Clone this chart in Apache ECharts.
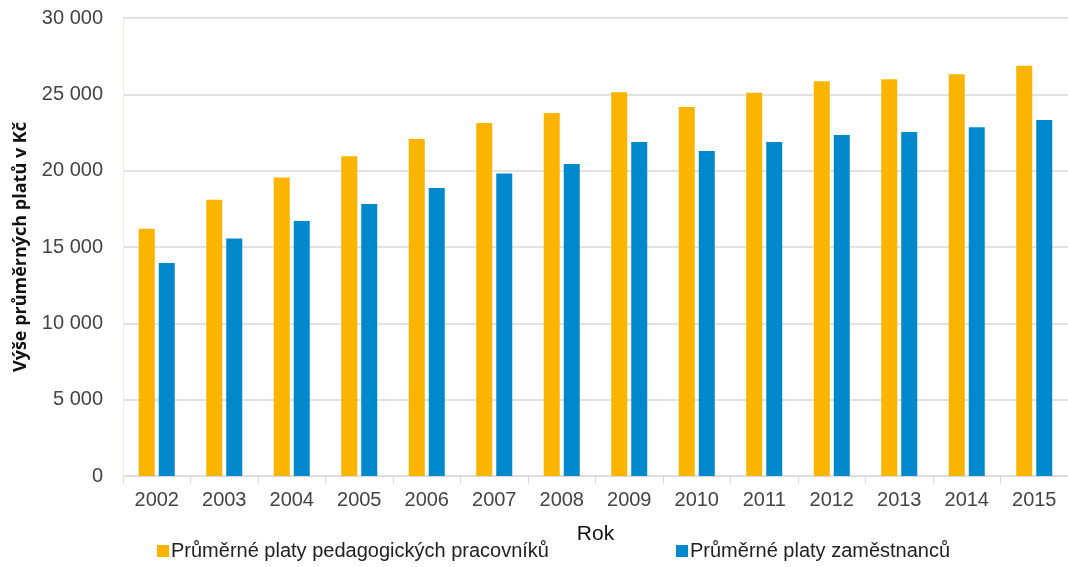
<!DOCTYPE html>
<html><head><meta charset="utf-8">
<script src="https://cdn.jsdelivr.net/npm/echarts@6/dist/echarts.min.js"></script>
<style>html,body{margin:0;padding:0;background:#fff}#c{width:1068px;height:567px}</style>
</head><body><div id="c"></div>
<script>
var years = ['2002','2003','2004','2005','2006','2007','2008','2009','2010','2011','2012','2013','2014','2015'];
var pedagogove = [16200,18100,19550,20950,22070,23120,23780,25130,24170,25110,25850,25990,26310,26880];
var zamestnanci = [13950,15550,16700,17820,18860,19820,20440,21880,21290,21880,22340,22530,22840,23320];
var seriesNames = ['Průměrné platy pedagogických pracovníků','Průměrné platy zaměstnanců'];

var chart = echarts.init(document.getElementById('c'));
var fmt = function(v){ return String(v).replace(/\B(?=(\d{3})+(?!\d))/g,' '); };
var F = 'Liberation Sans';
chart.setOption({
  animation:false,
  textStyle:{fontFamily:F},
  legend:{
    bottom:1, left:152, itemGap:127, itemWidth:12, itemHeight:12, icon:'rect',
    textStyle:{fontSize:20, color:'#222', fontFamily:F, padding:[0,0,0,-3]},
    data:seriesNames
  },
  grid:{left:123, right:-7, top:18, bottom:91, containLabel:false},
  xAxis:{
    type:'category', data:years,
    name:'Rok', nameLocation:'middle', nameGap:48,
    nameTextStyle:{fontSize:21, color:'#111', fontFamily:F},
    axisLine:{lineStyle:{color:'#d9d9d9'}},
    axisTick:{show:true, length:8, lineStyle:{color:'#d9d9d9'}},
    axisLabel:{fontSize:20, color:'#444', margin:14}
  },
  yAxis:{
    type:'value', min:0, max:30000, interval:5000,
    name:'Výše průměrných platů v Kč', nameLocation:'middle', nameGap:93,
    nameTextStyle:{fontSize:18, fontWeight:'bold', color:'#111', fontFamily:'Open Sans'},
    axisLine:{show:true, lineStyle:{color:'#efece2'}},
    axisTick:{show:false},
    splitLine:{lineStyle:{color:'#d9d9d9', width:1.5}},
    axisLabel:{fontSize:20, color:'#444', margin:20, formatter:fmt}
  },
  series:[
    {name:seriesNames[0], type:'bar', data:pedagogove, barWidth:16, barGap:'25%',
     itemStyle:{color:'#FBB500'}},
    {name:seriesNames[1], type:'bar', data:zamestnanci, barWidth:16,
     itemStyle:{color:'#0088CC'}}
  ]
});
</script></body></html>
